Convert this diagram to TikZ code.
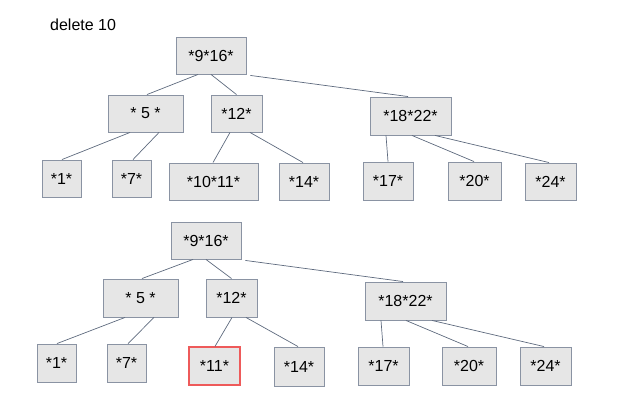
\documentclass[tikz,border=0pt]{standalone}
\usepackage{fontspec}
\setmainfont{Liberation Sans}
\definecolor{boxfill}{HTML}{E6E6E6}
\definecolor{boxline}{HTML}{8A93A3}
\definecolor{edgeline}{HTML}{5E6A7E}
\definecolor{redline}{HTML}{EE5A5A}
\begin{document}
\begin{tikzpicture}[x=1pt,y=-1pt,
  box/.style={draw=boxline, fill=boxfill, line width=0.9pt, inner sep=0pt, minimum height=37pt,
    font=\fontsize{16}{19}\selectfont, anchor=center},
  redbox/.style={box, draw=redline, line width=1.2pt},
  edge/.style={draw=edgeline, line width=0.7pt},
  lbl/.style={font=\fontsize{16}{19}\selectfont, inner sep=0pt}]
\useasboundingbox (0,0) rectangle (617,409);
\node[lbl, anchor=west] (title) at (50,25) {delete 10};
% top tree
\node[box, minimum width=70pt] (rootA) at (211,55.5) {*9*16*};
\node[box, minimum width=75pt] (fiveA) at (145.5,113.5) {* 5 *};
\node[box, minimum width=51pt] (twelveA) at (236.5,113.5) {*12*};
\node[box, minimum width=81pt, minimum height=38pt] (eighteenA) at (410.5,116) {*18*22*\hspace{9pt}};
\node[box, minimum width=39pt] (oneA) at (61.5,178.5) {*1*};
\node[box, minimum width=39pt] (sevenA) at (131.5,178.5) {*7*};
\node[box, minimum width=89pt] (tenA) at (213.5,181.5) {*10*11*};
\node[box, minimum width=50pt] (fourteenA) at (304,181.5) {*14*};
\node[box, minimum width=50pt, minimum height=38pt] (seventeenA) at (388,181) {*17*};
\node[box, minimum width=53pt, minimum height=38pt] (twentyA) at (474.5,181) {*20*};
\node[box, minimum width=51pt] (twentyfourA) at (550.5,181.5) {*24*};
\draw[edge] ([xshift=-13pt]rootA.south) -- ([xshift=1.5pt]fiveA.north);
\draw[edge] (rootA.south) -- (twelveA.north);
\draw[edge] ([xshift=4pt,yshift=-1pt]rootA.south east) -- ([xshift=-2.5pt]eighteenA.north);
\draw[edge] ([xshift=-15.5pt]fiveA.south) -- ([xshift=0.5pt]oneA.north);
\draw[edge] ([xshift=13.5pt]fiveA.south) -- ([xshift=1.5pt]sevenA.north);
\draw[edge] ([xshift=-6.5pt]twelveA.south) -- ([xshift=-0.5pt]tenA.north);
\draw[edge] ([xshift=13.5pt]twelveA.south) -- ([xshift=-1pt]fourteenA.north);
\draw[edge] ([xshift=-24.5pt]eighteenA.south) -- (seventeenA.north);
\draw[edge] ([xshift=1.5pt]eighteenA.south) -- ([xshift=-0.5pt]twentyA.north);
\draw[edge] ([xshift=24.5pt]eighteenA.south) -- ([xshift=-1.5pt]twentyfourA.north);
% bottom tree
\node[box, minimum width=70pt] (rootB) at (206,240.5) {*9*16*};
\node[box, minimum width=75pt, minimum height=38pt] (fiveB) at (140.5,298) {* 5 *};
\node[box, minimum width=51pt, minimum height=38pt] (twelveB) at (231.5,298) {*12*};
\node[box, minimum width=81pt, minimum height=38pt] (eighteenB) at (405.5,301) {*18*22*\hspace{9pt}};
\node[box, minimum width=39pt, minimum height=38pt] (oneB) at (56.5,363) {*1*};
\node[box, minimum width=39pt, minimum height=38pt] (sevenB) at (126.5,363) {*7*};
\node[redbox, minimum width=51pt, minimum height=38pt] (elevenB) at (214.5,366) {*11*};
\node[box, minimum width=50pt, minimum height=39pt] (fourteenB) at (299,366.5) {*14*};
\node[box, minimum width=51pt, minimum height=38pt] (seventeenB) at (383.5,366) {*17*};
\node[box, minimum width=54pt, minimum height=38pt] (twentyB) at (469,366) {*20*};
\node[box, minimum width=51pt, minimum height=38pt] (twentyfourB) at (545.5,366) {*24*};
\draw[edge] ([xshift=-13pt]rootB.south) -- ([xshift=1.5pt]fiveB.north);
\draw[edge] (rootB.south) -- (twelveB.north);
\draw[edge] ([xshift=4pt,yshift=-1pt]rootB.south east) -- ([xshift=-2.5pt]eighteenB.north);
\draw[edge] ([xshift=-15.5pt]fiveB.south) -- ([xshift=0.5pt]oneB.north);
\draw[edge] ([xshift=13.5pt]fiveB.south) -- ([xshift=1.5pt]sevenB.north);
\draw[edge] ([xshift=0.5pt]twelveB.south) -- ([xshift=0.5pt]elevenB.north);
\draw[edge] ([xshift=14.5pt]twelveB.south) -- ([xshift=-1pt]fourteenB.north);
\draw[edge] ([xshift=-24.5pt]eighteenB.south) -- ([xshift=-0.5pt]seventeenB.north);
\draw[edge] ([xshift=0.5pt]eighteenB.south) -- ([xshift=-1pt]twentyB.north);
\draw[edge] ([xshift=26.5pt]eighteenB.south) -- ([xshift=-1.5pt]twentyfourB.north);
\end{tikzpicture}
\end{document}
